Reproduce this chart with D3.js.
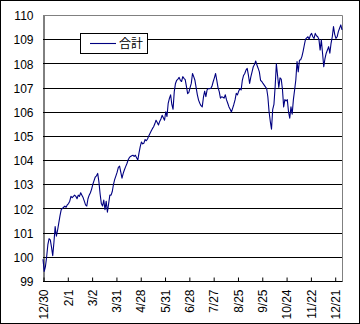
<!DOCTYPE html>
<html>
<head>
<meta charset="utf-8">
<script src="https://cdn.jsdelivr.net/npm/d3@7/dist/d3.min.js"></script>
<style>
  html, body { margin: 0; padding: 0; background: #fff; }
  svg { display: block; }
  text { font-family: "Liberation Sans", Arial, sans-serif; font-size: 12px; fill: #000; }
</style>
</head>
<body>
<svg id="chart" width="360" height="324"></svg>
<script>
// Daily series (one value per trading day)
const values = [
  99.9, 99.4, 99.6, 100.0, 100.5, 100.75, 100.7, 100.4, 100.05, 100.6,
  101.25, 100.85, 101.1, 101.4, 101.7, 101.95, 102.0, 102.05, 102.1, 102.05,
  102.15, 102.2, 102.3, 102.5, 102.45, 102.5, 102.55, 102.5, 102.4, 102.55,
  102.5, 102.65, 102.55, 102.45, 102.3, 102.15, 102.1, 102.4, 102.55, 102.65,
  102.8, 103.0, 103.15, 103.3, 103.35, 103.45, 103.1, 102.6, 102.2, 102.1,
  102.35, 101.95, 102.3, 101.85, 102.2, 102.55, 102.55, 102.7, 103.0, 103.2,
  103.35, 103.5, 103.7, 103.75, 103.5, 103.25, 103.45, 103.6, 103.73, 103.85,
  104.0, 104.1, 104.15, 104.18, 104.2, 104.15, 104.2, 104.1, 104.0, 104.3,
  104.56, 104.75, 104.67, 104.7, 104.85, 104.8, 104.87, 105.0, 105.1, 105.2,
  105.3, 105.38, 105.5, 105.65, 105.55, 105.45, 105.6, 105.7, 105.85, 105.75,
  105.65, 106.0, 105.8, 106.35, 106.55, 106.7, 106.3, 106.1, 106.83, 107.17,
  107.3, 107.35, 107.42, 107.3, 107.25, 107.45, 107.38, 107.33, 107.05, 106.75,
  106.8, 107.0, 107.17, 107.58, 107.45, 107.3, 107.0, 106.7, 106.48, 106.35,
  106.25, 106.2, 106.6, 106.85, 106.62, 106.9, 106.96, 106.95, 106.96, 107.05,
  107.24, 107.4, 107.58, 107.3, 107.0, 106.83, 106.56, 106.62, 106.6, 106.56,
  106.7, 106.49, 106.35, 106.2, 106.1, 105.99, 106.14, 106.3, 106.49, 106.76,
  106.7, 106.85, 106.96, 106.9, 107.3, 107.5, 107.58, 107.72, 107.79, 107.51,
  107.17, 107.44, 107.65, 107.86, 107.95, 108.1, 107.93, 107.8, 107.65, 107.3,
  107.25, 107.17, 107.1, 107.03, 106.96, 106.62, 106.0, 105.6, 105.28, 106.1,
  106.3, 107.04, 107.98, 107.5, 107.0, 107.4, 107.35, 106.93, 106.2, 106.5,
  106.45, 106.5, 106.0, 105.73, 106.2, 105.9, 106.5, 106.9, 107.31, 108.07,
  107.65, 108.13, 108.15, 108.28, 108.5, 108.76, 109.0, 109.05, 109.1, 109.0,
  109.17, 109.24, 109.1, 109.03, 109.24, 109.14, 109.1, 109.0, 108.55, 108.97,
  108.42, 107.86, 108.2, 108.42, 108.55, 108.69, 108.42, 108.83, 109.1, 109.52,
  109.2, 109.03, 109.1, 109.31, 109.45, 109.59, 109.38
];

// Category labels shown every 20 trading days
const tickLabels = ["12/30", "2/1", "3/2", "3/31", "4/28", "5/31", "6/28",
                    "7/27", "8/25", "9/25", "10/24", "11/22", "12/21"];
const tickStep = 20;
const yTicks = [99, 100, 101, 102, 103, 104, 105, 106, 107, 108, 109, 110];
const seriesName = "合計";

const svg = d3.select("#chart");
const W = 360, H = 324;
const plot = { left: 43, right: 342, top: 15, bottom: 281 };

// Outer frame
svg.append("rect")
  .attr("x", 0.5).attr("y", 0.5).attr("width", W - 1).attr("height", H - 1)
  .attr("fill", "#fff").attr("stroke", "#000");

const x = d3.scaleLinear().domain([0, values.length - 1]).range([plot.left, plot.right]);
const y = d3.scaleLinear().domain([99, 110]).range([plot.bottom, plot.top]);

const px = v => Math.round(v) + 0.5;

// Horizontal gridlines
svg.append("g").selectAll("line")
  .data(yTicks.filter(d => d > 99 && d < 110))
  .join("line")
  .attr("x1", plot.left).attr("x2", plot.right)
  .attr("y1", d => px(y(d))).attr("y2", d => px(y(d)))
  .attr("stroke", "#000").attr("stroke-width", 1);

// Plot border: top and right in grey
svg.append("path")
  .attr("d", `M${plot.left},${px(y(110))}H${px(plot.right)}V${px(y(99))}`)
  .attr("fill", "none").attr("stroke", "#808080");

// Y axis
const yAxis = d3.axisLeft(y).tickValues(yTicks).tickSize(0).tickPadding(10);
const gy = svg.append("g").attr("transform", `translate(${px(plot.left)},0.5)`).call(yAxis);
gy.select(".domain").attr("stroke", "#000");
gy.selectAll("text").style("font-size", "12px").attr("dy", "0.35em");

// X axis with inward ticks and rotated labels
const tickIdx = tickLabels.map((_, i) => i * tickStep);
const xAxis = d3.axisBottom(x).tickValues(tickIdx)
  .tickFormat((d, i) => tickLabels[i]).tickSize(-4).tickSizeOuter(0);
const gx = svg.append("g").attr("transform", `translate(0.5,${px(y(99))})`).call(xAxis);
gx.select(".domain").attr("stroke", "#000").attr("d", `M${plot.left - 0.5},0H${plot.right}`);
gx.selectAll(".tick line").attr("stroke", "#000");
gx.selectAll(".tick text")
  .attr("transform", "rotate(-90)")
  .attr("text-anchor", "end")
  .attr("x", -8).attr("y", 0).attr("dy", "0.35em")
  .style("font-size", "12px");

// Series line
const line = d3.line().x((d, i) => x(i)).y(d => y(d));
svg.append("path")
  .datum(values)
  .attr("d", line)
  .attr("fill", "none")
  .attr("stroke", "#000080")
  .attr("stroke-width", 1.1)
  .attr("stroke-linejoin", "round");

// Legend
const lg = svg.append("g");
lg.append("rect").attr("x", 80.5).attr("y", 33.5).attr("width", 67).attr("height", 20)
  .attr("fill", "#fff").attr("stroke", "#000");
lg.append("line").attr("x1", 90).attr("x2", 116).attr("y1", 43.5).attr("y2", 43.5)
  .attr("stroke", "#000080").attr("stroke-width", 1.1);
lg.append("text").attr("x", 119).attr("y", 48)
  .style("font-family", "'Noto Sans CJK JP', sans-serif").style("font-size", "12px")
  .text(seriesName);
</script>
</body>
</html>
